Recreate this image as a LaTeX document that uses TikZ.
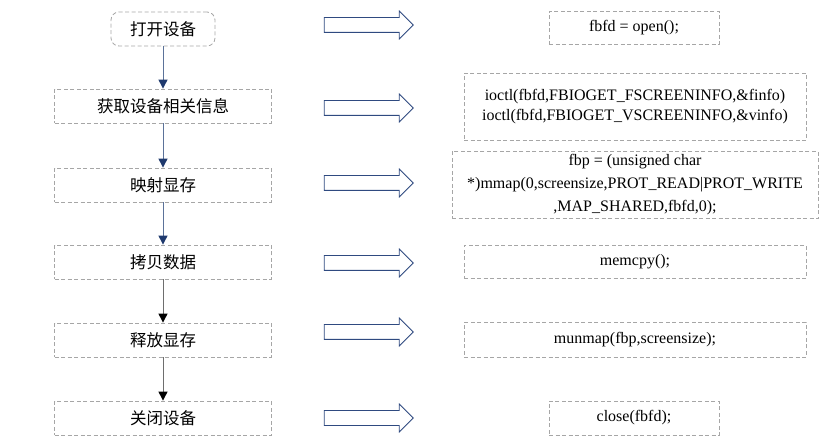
\documentclass[tikz,border=0pt]{standalone}
\usepackage{fontspec}
\setmainfont{Liberation Serif}
\newfontfamily\cjk{Noto Sans CJK SC}
\usetikzlibrary{shapes,arrows.meta}
\usetikzlibrary{positioning}

\definecolor{boxgray}{HTML}{A6A6A6}
\definecolor{linkblue}{HTML}{5B7299}
\definecolor{tipblue}{HTML}{1F3A6E}
\definecolor{linkgray}{HTML}{6E6E6E}
\definecolor{arrowblue}{HTML}{2F4A80}

\tikzset{
  stepbox/.style={draw=boxgray, dash pattern=on 4pt off 2.5pt, line width=0.8pt,
    minimum width=217pt, minimum height=34pt, font=\cjk\fontsize{16.5}{20}\selectfont},
  codebox/.style={draw=boxgray, dash pattern=on 4pt off 2.5pt, line width=0.8pt,
    align=center, font=\fontsize{16}{20}\selectfont},
  fatarrow/.style={draw=arrowblue, fill=white, line width=0.8pt, single arrow,
    single arrow head extend=6.5pt, single arrow head indent=0pt,
    inner xsep=0pt, inner ysep=7pt, minimum height=89pt},
  bluelink/.style={draw=linkblue, line width=1pt, -{Triangle[width=9pt,length=9pt,color=tipblue]}},
  graylink/.style={draw=linkgray, line width=1pt, -{Triangle[width=9pt,length=9pt,color=black]}}
}

\begin{document}
\begin{tikzpicture}[x=1pt, y=-1pt]
    \useasboundingbox (0,0) rectangle (830,443);

    % left column: the steps
    \node[stepbox, rounded corners=8pt, minimum width=104pt] (open) at (163,29) {打开设备};
    \node[stepbox] (info) at (163,106) {获取设备相关信息};
    \node[stepbox] (map) at (163,185) {映射显存};
    \node[stepbox] (copy) at (163,262) {拷贝数据};
    \node[stepbox] (free) at (163,340) {释放显存};
    \node[stepbox] (close) at (163,418) {关闭设备};

    \draw[bluelink] (open) -- (info);
    \draw[bluelink] (info) -- (map);
    \draw[bluelink] (map) -- (copy);
    \draw[graylink] (copy) -- (free);
    \draw[graylink] (free) -- (close);

    % middle: block arrows
    \node[fatarrow] (a1) at (365,25) {};
    \node[fatarrow] (a2) at (365,108) {};
    \node[fatarrow] (a3) at (365,183) {};
    \node[fatarrow] (a4) at (365,263) {};
    \node[fatarrow] (a5) at (365,332) {};
    \node[fatarrow] (a6) at (365,418) {};

    % right column: the calls
    \node[codebox, minimum width=170pt, minimum height=33pt] (c1) at (634,28) {fbfd = open();};
    \node[codebox, minimum width=342pt, minimum height=67pt] (c2) at (635,107)
      {ioctl(fbfd,FBIOGET\_FSCREENINFO,\&finfo)\\ioctl(fbfd,FBIOGET\_VSCREENINFO,\&vinfo)};
    \node[codebox, minimum width=366pt, minimum height=67pt, font=\fontsize{16}{23}\selectfont] (c3) at (635,185)
      {fbp = (unsigned char\\*)mmap(0,screensize,PROT\_READ|PROT\_WRITE\\,MAP\_SHARED,fbfd,0);};
    \node[codebox, minimum width=342pt, minimum height=33pt] (c4) at (635,262) {memcpy();};
    \node[codebox, minimum width=342pt, minimum height=35pt] (c5) at (635,340) {munmap(fbp,screensize);};
    \node[codebox, minimum width=170pt, minimum height=34pt] (c6) at (634,418) {close(fbfd);};
\end{tikzpicture}
\end{document}
